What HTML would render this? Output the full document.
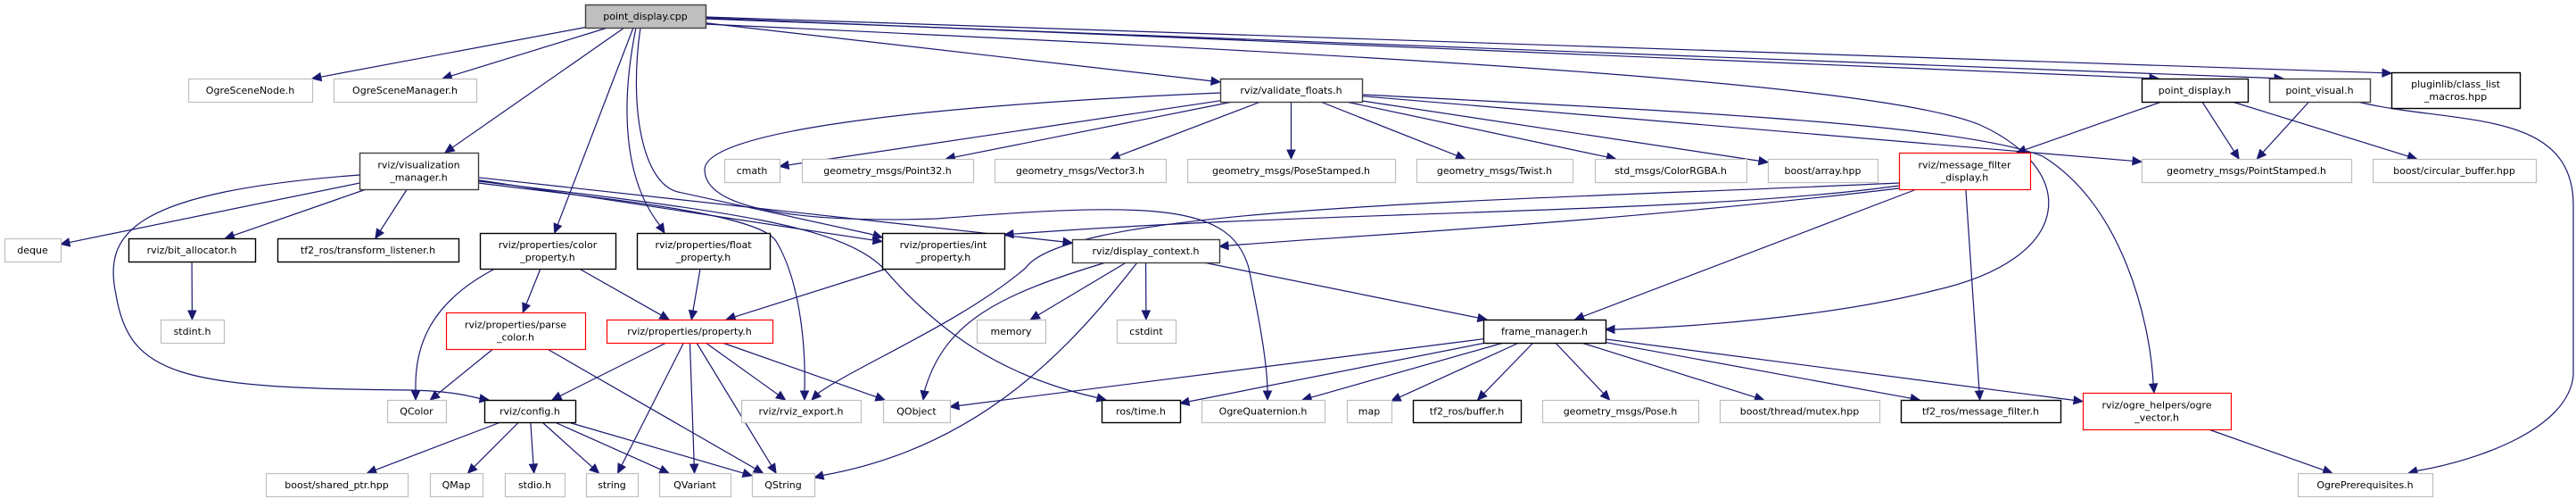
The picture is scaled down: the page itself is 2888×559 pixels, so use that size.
<!DOCTYPE html>
<html><head><meta charset="utf-8"><style>
html,body{margin:0;padding:0;background:#fff;}
svg{display:block;}
text{font-family:"DejaVu Sans","Liberation Sans",sans-serif;font-size:11px;fill:#000;}
</style></head><body>
<svg id="g" xmlns="http://www.w3.org/2000/svg" width="2888" height="559" viewBox="0 0 2888 559">
<g id="edges" fill="none" stroke="#191970" stroke-width="1.2"></g>
<g id="arrows" fill="#191970" stroke="#191970" stroke-width="1"></g>
<g id="nodes"></g>
</svg>
<script>
var N={
cpp:[656,791,5,31,'f',['point_display.cpp']],
sn:[211,350,88,114,'g',['OgreSceneNode.h']],
sm:[374,534,88,114,'g',['OgreSceneManager.h']],
vm:[403,536,171,212,'d',['rviz/visualization','_manager.h']],
dq:[5,68,267,293,'g',['deque']],
ba:[144,286,267,293,'b',['rviz/bit_allocator.h']],
tl:[311,514,267,293,'b',['tf2_ros/transform_listener.h']],
cp:[538,690,261,301,'b',['rviz/properties/color','_property.h']],
fp:[714,863,261,301,'b',['rviz/properties/float','_property.h']],
si:[180,251,358,384,'g',['stdint.h']],
pc:[500,656,350,391,'r',['rviz/properties/parse','_color.h']],
pr:[680,866,358,384,'r',['rviz/properties/property.h']],
qc:[434,500,448,473,'g',['QColor']],
cf:[543,645,448,473,'b',['rviz/config.h']],
sp:[298,457,530,556,'g',['boost/shared_ptr.hpp']],
qm:[482,541,530,556,'g',['QMap']],
sd:[566,633,530,556,'g',['stdio.h']],
st:[657,715,530,556,'g',['string']],
qv:[739,819,530,556,'g',['QVariant']],
qs:[843,913,530,556,'g',['QString']],
vf:[1368,1527,88,114,'d',['rviz/validate_floats.h']],
cm:[812,874,178,204,'g',['cmath']],
p32:[899,1091,178,204,'g',['geometry_msgs/Point32.h']],
v3:[1115,1307,178,204,'g',['geometry_msgs/Vector3.h']],
ps:[1331,1564,178,204,'g',['geometry_msgs/PoseStamped.h']],
ip:[989,1126,261,301,'b',['rviz/properties/int','_property.h']],
dc:[1202,1367,268,294,'d',['rviz/display_context.h']],
me:[1095,1172,358,384,'g',['memory']],
ci:[1252,1318,358,384,'g',['cstdint']],
re:[831,965,448,473,'g',['rviz/rviz_export.h']],
qo:[990,1065,448,473,'g',['QObject']],
rt:[1235,1323,448,473,'b',['ros/time.h']],
oq:[1347,1485,448,473,'g',['OgreQuaternion.h']],
tw:[1588,1763,178,204,'g',['geometry_msgs/Twist.h']],
cr:[1788,1958,178,204,'g',['std_msgs/ColorRGBA.h']],
ar:[1982,2105,178,204,'g',['boost/array.hpp']],
mf:[2129,2276,171,212,'r',['rviz/message_filter','_display.h']],
fm:[1663,1800,358,384,'b',['frame_manager.h']],
mp:[1510,1560,448,473,'g',['map']],
bu:[1584,1705,448,473,'b',['tf2_ros/buffer.h']],
po:[1729,1904,448,473,'g',['geometry_msgs/Pose.h']],
mu:[1928,2107,448,473,'g',['boost/thread/mutex.hpp']],
tm:[2131,2310,448,473,'b',['tf2_ros/message_filter.h']],
pdh:[2401,2520,88,114,'b',['point_display.h']],
pv:[2544,2657,88,114,'d',['point_visual.h']],
pl:[2681,2825,81,121,'b',['pluginlib/class_list','_macros.hpp']],
pst:[2401,2636,178,204,'g',['geometry_msgs/PointStamped.h']],
cb:[2660,2843,178,204,'g',['boost/circular_buffer.hpp']],
ov:[2335,2501,440,481,'r',['rviz/ogre_helpers/ogre','_vector.h']],
opr:[2576,2727,530,556,'g',['OgrePrerequisites.h']]
};
var S='http://www.w3.org/2000/svg';
function el(t,a,p){var e=document.createElementNS(S,t);for(var k in a)e.setAttribute(k,a[k]);p.appendChild(e);return e;}
var ng=document.getElementById('nodes'),eg=document.getElementById('edges'),ag=document.getElementById('arrows');
var col={f:'#404040',g:'#bfbfbf',b:'#000000',d:'#404040',r:'#ff0000'};
for(var k in N){var n=N[k];
 el('rect',{x:n[0]+.5,y:n[2]+.5,width:n[1]-n[0],height:n[3]-n[2],fill:n[4]=='f'?'#bfbfbf':'#fff',stroke:col[n[4]],'stroke-width':(n[4]=='b'||n[4]=='d'||n[4]=='f')?1.4:1.2},ng);
 var cx=(n[0]+n[1])/2,cy=(n[2]+n[3])/2,L=n[5];
 for(var i=0;i<L.length;i++){var t=el('text',{x:cx,y:cy+4+(i-(L.length-1)/2)*14,'text-anchor':'middle'},ng);t.textContent=L[i];}
}
function ctr(n){return[(n[0]+n[1])/2,(n[2]+n[3])/2];}
function clip(n,p){var c=ctr(n),hw=(n[1]-n[0])/2,hh=(n[3]-n[2])/2,dx=p[0]-c[0],dy=p[1]-c[1];
 var t=Math.min(dx?hw/Math.abs(dx):1e9,dy?hh/Math.abs(dy):1e9);return[c[0]+dx*t,c[1]+dy*t];}
function arrow(tip,from){var dx=tip[0]-from[0],dy=tip[1]-from[1],l=Math.hypot(dx,dy)||1;dx/=l;dy/=l;
 var bx=tip[0]-dx*10,by=tip[1]-dy*10;
 el('polygon',{points:tip[0]+','+tip[1]+' '+(bx-dy*4.5)+','+(by+dx*4.5)+' '+(bx+dy*4.5)+','+(by-dx*4.5)},ag);
 return[bx,by];}
function E(a,b,sp,tp){var A=N[a],B=N[b];var s=sp||clip(A,ctr(B));var t=tp||clip(B,s);
 var base=arrow(t,s);el('path',{d:'M'+s[0]+','+s[1]+' L'+base[0]+','+base[1]},eg);}
function C(d,tip,from){var base=arrow(tip,from);el('path',{d:d+' L'+base[0]+','+base[1]},eg);}
[['cpp','sn'],['cpp','sm'],['cpp','vf'],['vm','dq'],['vm','ba'],['vm','tl'],['ba','si'],['vm','ip'],['vm','dc'],
['cp','pc'],['cp','pr'],['fp','pr'],['ip','pr'],['pc','qc'],['pc','qs'],['pr','cf'],['pr','st'],['pr','qv'],['pr','qs'],['pr','re'],['pr','qo'],
['cf','sp'],['cf','qm'],['cf','sd'],['cf','st'],['cf','qv'],['cf','qs'],
['vf','cm'],['vf','p32'],['vf','v3'],['vf','ps'],['vf','tw'],['vf','cr'],['vf','ar'],['vf','pst'],
['dc','me'],['dc','ci'],['dc','fm'],['mf','fm'],['mf','tm'],
['fm','qo'],['fm','rt'],['fm','oq'],['fm','mp'],['fm','bu'],['fm','po'],['fm','mu'],['fm','tm'],['fm','ov'],
['pdh','mf'],['pdh','pst'],['pdh','cb'],['pv','pst'],['ov','opr']
].forEach(function(e){E(e[0],e[1]);});
E('cpp','vm',[700,31]);E('cpp','cp',[710,31]);
E('cpp','pdh',[791,20],[2420,88]);E('cpp','pv',[791,21],[2560,88]);E('cpp','pl',[791,19],[2681,82]);
C('M713,31 C695,120 700,200 738,250',[745,261],[738,250]);
C('M718,31 C705,120 720,205 760,215 L975,262',[989,266],[975,262]);
C('M791,27 C1500,60 2100,90 2220,140 C2330,190 2330,290 2166,326 C2050,355 1900,366 1812,369',[1800,369],[1812,369]);
C('M1527,106 C1900,125 2200,140 2290,175 C2380,230 2410,360 2414,428',[2415,440],[2414,428]);
C('M403,196 C150,215 115,260 130,330 C145,420 200,435 460,437 C500,438 520,442 536,446',[548,448],[536,446]);
C('M1368,104 C1000,120 790,150 790,190 C790,235 900,250 1050,245 C1300,225 1380,230 1400,300 C1410,350 1420,400 1421,436',[1421,448],[1421,436]);
C('M536,205 C700,225 850,240 870,270 C900,320 903,400 902,436',[902,448],[902,436]);
C('M536,203 C800,235 940,250 990,300 C1050,370 1120,420 1228,445',[1240,448],[1228,445]);
C('M2129,205 C1700,225 1200,230 1150,300 C1080,360 960,410 918,440',[910,448],[918,440]);
C('M2129,208 C1900,240 1500,235 1138,262',[1126,263],[1138,262]);
C('M2129,211 C1800,250 1500,265 1379,275',[1367,276],[1379,275]);
C('M1275,294 C1200,390 1100,500 925,532',[913,535],[925,532]);
C('M1240,294 C1120,330 1060,360 1037,436',[1035,448],[1037,436]);
C('M555,301 C480,340 465,390 466,436',[466,448],[466,436]);
C('M2643,114 C2750,140 2885,120 2885,230 L2885,420 C2880,480 2780,515 2712,527',[2700,530],[2712,527]);
</script>
</body></html>
